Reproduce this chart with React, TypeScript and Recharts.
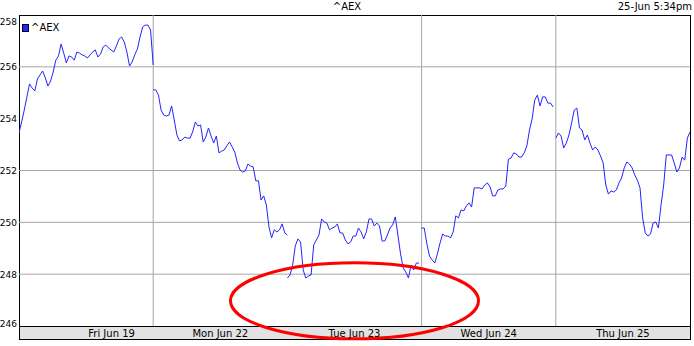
import { LineChart, Line, XAxis, YAxis, ReferenceLine, ReferenceDot } from 'recharts'

const symbol = '^AEX'
const stamp = '25-Jun 5:34pm'
const dayLabels = ['Fri Jun 19', 'Mon Jun 22', 'Tue Jun 23', 'Wed Jun 24', 'Thu Jun 25']
const labelAt = [0.69, 1.5, 2.5, 3.5, 4.5]
const dayLines = [1, 3, 4]
const priceLines = [248, 250, 252, 256]
const yTicks = [246, 248, 250, 252, 254, 256, 258]

// index level every 10 minutes from the open, one list per session
const fri = [
  253.45, 253.87, 254.33, 254.84, 255.34, 255.18, 255.07, 255.53, 255.69, 255.84,
  255.57, 255.26, 255.45, 255.8, 256.26, 256.42, 256.88, 256.53, 256.15, 256.42,
  256.38, 256.26, 256.57, 256.53, 256.46, 256.42, 256.34, 256.46, 256.57, 256.65,
  256.38, 256.5, 256.77, 256.84, 256.73, 256.65, 256.57, 256.8, 257.07, 257.15,
  256.96, 256.57, 256.03, 256.19, 256.46, 256.69, 257.15, 257.54, 257.61, 257.61,
  257.42, 256.07,
]
const mon = [
  255.11, 255.11, 254.91, 254.33, 254.14, 254.1, 254.14, 254.49, 253.95, 253.37,
  253.14, 253.18, 253.29, 253.25, 253.25, 253.49, 253.87, 253.72, 253.76, 253.1,
  253.29, 253.64, 253.33, 253.06, 253.33, 252.68, 252.75, 252.79, 252.95, 253.1,
  252.91, 252.71, 252.29, 252.02, 251.94, 251.98, 252.25, 252.17, 252.14, 251.6,
  251.6, 250.86, 251.02, 250.67, 249.82, 249.4, 249.71, 249.63, 249.71, 249.94,
  249.59, 249.51,
]
const tue = [
  247.85, 247.97, 248.35, 249.09, 249.36, 249.24, 248.16, 247.85, 247.93, 247.97,
  249.13, 249.32, 249.51, 250.13, 250.01, 249.97, 249.71, 249.78, 249.82, 249.94,
  249.59, 249.59, 249.32, 249.17, 249.24, 249.47, 249.47, 249.78, 249.63, 249.36,
  249.63, 250.13, 250.13, 249.86, 249.97, 249.86, 249.28, 249.28, 249.51, 249.78,
  249.9, 250.21, 249.51, 248.78, 248.24, 248.08, 247.85, 248.35, 248.16, 248.43,
  248.43,
]
const wed = [
  249.78, 249.78, 249.17, 248.7, 248.55, 248.43, 248.78, 249.2, 249.55, 249.47,
  249.47, 249.4, 249.63, 250.25, 250.17, 250.48, 250.44, 250.63, 250.75, 250.59,
  251.33, 251.33, 251.33, 251.29, 251.44, 251.52, 251.37, 251.02, 251.02, 251.25,
  251.29, 251.29, 251.4, 252.44, 252.48, 252.68, 252.64, 252.52, 252.52, 252.68,
  252.95, 253.56, 253.99, 254.72, 254.91, 254.49, 254.84, 254.84, 254.6, 254.6,
  254.45,
]
const thu = [
  253.25, 253.45, 253.33, 252.87, 253.06, 253.37, 253.83, 254.33, 254.41, 253.64,
  253.56, 253.18, 253.37, 253.06, 252.79, 252.91, 252.79, 252.56, 252.29, 251.44,
  251.09, 251.21, 251.17, 251.25, 251.52, 251.71, 252.1, 252.33, 252.25, 252.1,
  251.83, 251.63, 251.33, 250.17, 249.59, 249.47, 249.55, 249.98, 250.01, 249.78,
  250.67, 251.44, 252.6, 252.6, 252.6, 252.29, 251.94, 252.1, 252.52, 252.4,
  253.25, 253.48,
]

const sessions = [fri, mon, tue, wed, thu]
const SLOTS = 51 // 10-minute slots per session

// hand-drawn ring around the Tuesday lows
const ring = { t: 2.5, v: 246.97 }

const W = 694
const H = 346
const FONT = '"DejaVu Sans", sans-serif'
const BLUE = '#2424ff'
const GRID = '#a6a6a6'
const Y_MIN = yTicks[0]
const Y_MAX = yTicks[yTicks.length - 1]

const series = sessions.map((vals, d) => vals.map((v, i) => ({ t: d + i / SLOTS, v })))

function DayTick(props: any) {
  const { x, y, index } = props
  return (
    <text x={x} y={y} dy={10.5} textAnchor="middle" fontSize={10} fontFamily={FONT} fill="#000">
      {dayLabels[index]}
    </text>
  )
}

function PriceTick(props: any) {
  const { y, payload } = props
  const yy = Math.min(Math.max(y, 21), 323)
  return (
    <text x={17} y={yy} dy={3.5} textAnchor="end" fontSize={9} fontFamily={FONT} fill="#000">
      {payload.value}
    </text>
  )
}

function Ring(props: any) {
  const { cx, cy } = props
  return <ellipse cx={cx} cy={cy} rx={124} ry={38} fill="none" stroke="#ff0000" strokeWidth={3} />
}

export default function App() {
  return (
    <div style={{ position: 'relative', width: W, height: H, background: '#fff', fontFamily: FONT }}>
      <style>{'body{margin:0}'}</style>
      {/* frame + date band */}
      <div style={{ position: 'absolute', left: 19, top: 15, width: 672, height: 325, border: '1px solid #000', boxSizing: 'border-box' }} />
      <div style={{ position: 'absolute', left: 19, top: 326, width: 672, height: 14, background: '#e2e2e2', border: '1px solid #000', boxSizing: 'border-box' }} />
      <div style={{ position: 'absolute', left: 0, top: 0, width: W, textAlign: 'center', fontSize: 10, lineHeight: '14px' }}>{symbol}</div>
      <div style={{ position: 'absolute', right: 2, top: 0, fontSize: 10, lineHeight: '14px' }}>{stamp}</div>
      <div style={{ position: 'absolute', left: 22, top: 22, fontSize: 10, lineHeight: '11px', display: 'flex', alignItems: 'center', gap: 2 }}>
        <span style={{ display: 'inline-block', width: 5, height: 6, background: BLUE, border: '1px solid #000018' }} />
        {symbol}
      </div>
      <div style={{ position: 'absolute', left: 0, top: 0 }}>
        <LineChart width={W} height={H} margin={{ top: 15, right: 4, bottom: 0, left: 0 }}>
          <XAxis
            dataKey="t"
            type="number"
            domain={[0, 5]}
            ticks={labelAt}
            tick={<DayTick />}
            tickLine={false}
            axisLine={false}
            tickSize={0}
            tickMargin={0}
            height={20}
            allowDataOverflow
          />
          <YAxis
            domain={[Y_MIN, Y_MAX]}
            ticks={yTicks}
            tick={<PriceTick />}
            tickLine={false}
            axisLine={false}
            width={19}
            allowDataOverflow
          />
          {dayLines.map(d => (
            <ReferenceLine
              key={'d' + d}
              segment={[{ x: d, y: Y_MIN }, { x: d, y: Y_MAX }]}
              stroke={GRID}
              strokeWidth={1}
            />
          ))}
          {priceLines.map(p => (
            <ReferenceLine key={'p' + p} y={p} stroke={GRID} strokeWidth={1} />
          ))}
          {series.map((data, d) => (
            <Line
              key={d}
              data={data}
              dataKey="v"
              type="linear"
              stroke={BLUE}
              strokeWidth={1}
              dot={false}
              activeDot={false}
              isAnimationActive={false}
            />
          ))}
          <ReferenceDot x={ring.t} y={ring.v} ifOverflow="visible" shape={<Ring />} />
        </LineChart>
      </div>
    </div>
  )
}
